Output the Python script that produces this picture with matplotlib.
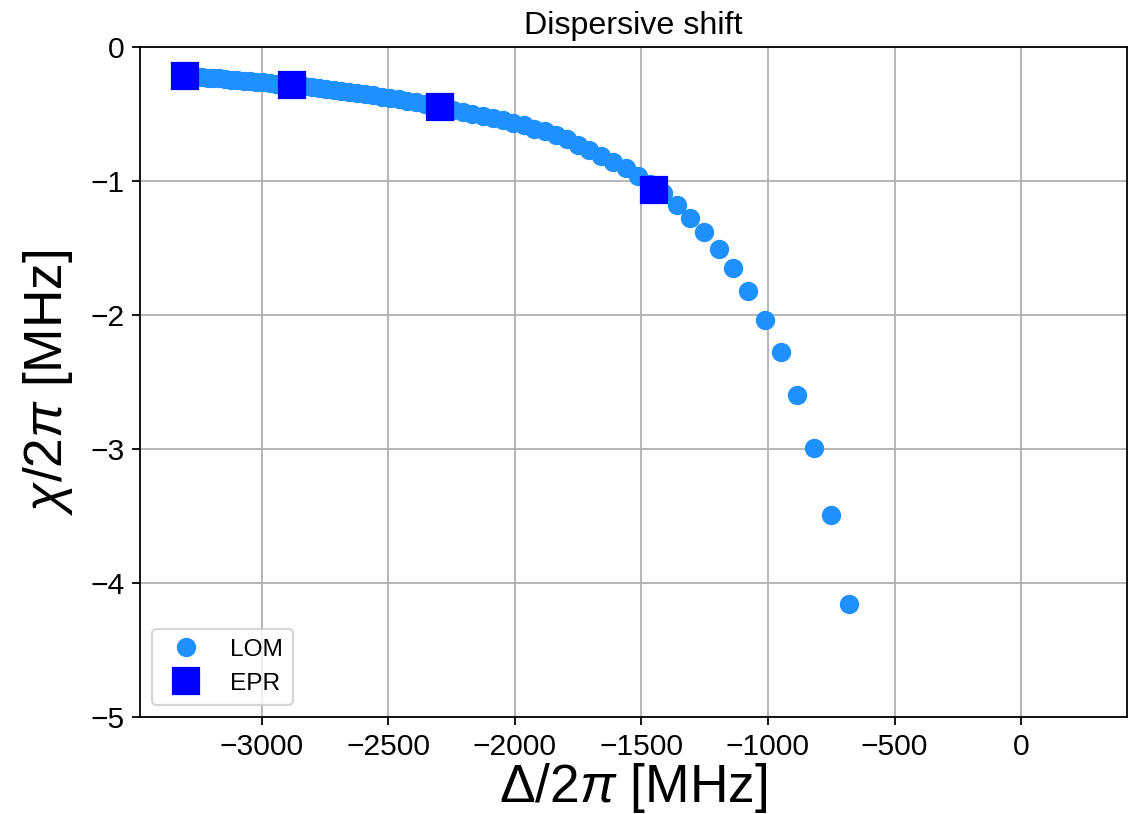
import matplotlib
matplotlib.use("Agg")
import matplotlib.pyplot as plt

plt.rcParams["font.family"] = ["Liberation Sans", "DejaVu Sans"]
plt.rcParams["mathtext.fontset"] = "custom"
plt.rcParams["mathtext.rm"] = "Liberation Sans"
plt.rcParams["mathtext.it"] = "Liberation Sans:italic"

# LOM sweep: detuning [MHz] and dispersive shift [MHz]
lom_delta = [
    -3305, -3283, -3261, -3238, -3215, -3192, -3169, -3145, -3121, -3097,
    -3072, -3047, -3022, -2996, -2970, -2943, -2916, -2889, -2861, -2833,
    -2804, -2775, -2746, -2716, -2686, -2655, -2624, -2592, -2560, -2527,
    -2494, -2460, -2426, -2391, -2355, -2319, -2282, -2245, -2207, -2168,
    -2128, -2088, -2047, -2008, -1964, -1925, -1881, -1838, -1795, -1751,
    -1707, -1660, -1613, -1561, -1514, -1465, -1415, -1360, -1308, -1253,
    -1194, -1138, -1079, -1012, -949, -885, -818, -751, -680,
]
lom_chi = [
    -0.216, -0.219, -0.222, -0.225, -0.228, -0.232, -0.235, -0.239, -0.243, -0.246,
    -0.251, -0.255, -0.259, -0.264, -0.268, -0.273, -0.278, -0.284, -0.289, -0.295,
    -0.301, -0.308, -0.314, -0.321, -0.329, -0.336, -0.345, -0.353, -0.362, -0.371,
    -0.381, -0.391, -0.402, -0.414, -0.427, -0.440, -0.454, -0.468, -0.483, -0.498,
    -0.515, -0.532, -0.548, -0.565, -0.585, -0.61, -0.63, -0.66, -0.69, -0.73,
    -0.77, -0.81, -0.86, -0.90, -0.96, -1.02, -1.09, -1.18, -1.276, -1.38,
    -1.51, -1.65, -1.82, -2.04, -2.28, -2.60, -2.99, -3.49, -4.16,
]

# EPR simulations
epr_delta = [-3304, -2881, -2295, -1450]
epr_chi = [-0.218, -0.287, -0.448, -1.067]

fig = plt.figure(figsize=(1132 / 160, 814 / 160), dpi=160)
ax = fig.add_axes([0.1237, 0.1192, 0.8719, 0.8231])

ax.plot(lom_delta, lom_chi, "o", color="#1E90FF", ms=7.7, label="LOM")
ax.plot(epr_delta, epr_chi, "s", color="#0000FF", ms=12, label="EPR")

ax.set_xlim(-3482, 419)
ax.set_ylim(-5, 0)
ax.set_xticks([-3000, -2500, -2000, -1500, -1000, -500, 0])
ax.set_yticks([0, -1, -2, -3, -4, -5])
ax.tick_params(labelsize=13.5)
ax.grid(True)
ax.set_axisbelow(True)

ax.set_title("Dispersive shift", fontsize=14.5)
ax.set_xlabel("Δ/2$\\pi$ [MHz]", fontsize=24, labelpad=0)
ax.set_ylabel("$\\chi$/2$\\pi$ [MHz]", fontsize=24, labelpad=7)
ax.legend(loc="lower left", fontsize=11)

fig.savefig("out.png", dpi=160)
